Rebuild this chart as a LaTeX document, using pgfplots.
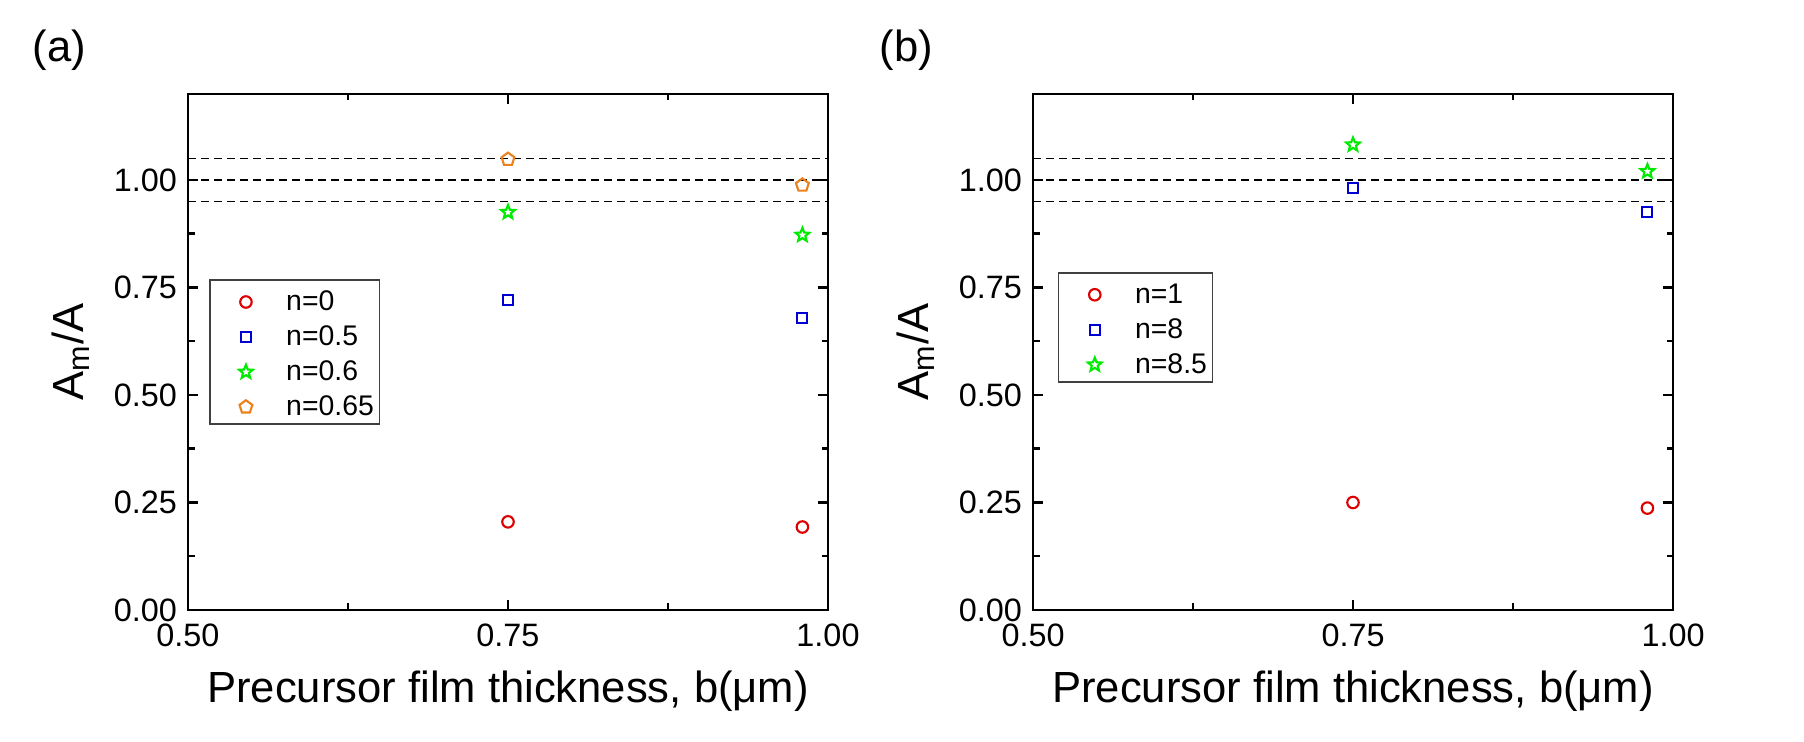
\documentclass[border=0pt]{standalone}
\usepackage{pgfplots}
\pgfplotsset{compat=1.18}
\usepackage{fontspec}
\setmainfont{Liberation Sans}
\usetikzlibrary{plotmarks}
\definecolor{mred}{RGB}{220,0,0}
\definecolor{mblue}{RGB}{0,0,210}
\definecolor{mgreen}{RGB}{0,235,0}
\definecolor{morange}{RGB}{235,130,30}
\pgfdeclareplotmark{ostar}{%
  \pgfpathmoveto{\pgfqpointpolar{90}{1.15\pgfplotmarksize}}%
  \pgfpathlineto{\pgfqpointpolar{126}{0.5\pgfplotmarksize}}%
  \pgfpathlineto{\pgfqpointpolar{162}{1.15\pgfplotmarksize}}%
  \pgfpathlineto{\pgfqpointpolar{198}{0.5\pgfplotmarksize}}%
  \pgfpathlineto{\pgfqpointpolar{234}{1.15\pgfplotmarksize}}%
  \pgfpathlineto{\pgfqpointpolar{270}{0.5\pgfplotmarksize}}%
  \pgfpathlineto{\pgfqpointpolar{306}{1.15\pgfplotmarksize}}%
  \pgfpathlineto{\pgfqpointpolar{342}{0.5\pgfplotmarksize}}%
  \pgfpathlineto{\pgfqpointpolar{18}{1.15\pgfplotmarksize}}%
  \pgfpathlineto{\pgfqpointpolar{54}{0.5\pgfplotmarksize}}%
  \pgfpathclose\pgfusepathqstroke}
\pgfplotsset{
  myax/.style={
    scale only axis, width=256bp, height=206.4bp,
    anchor=south west,
    xmin=0.5, xmax=1.0, ymin=0, ymax=1.2,
    xtick={0.5,0.75,1.0}, ytick={0,0.25,0.5,0.75,1.0},
    minor x tick num=1, minor y tick num=1,
    tick align=inside,
    major tick length=4bp, minor tick length=2.6bp,
    axis line style={line width=1bp},
    every tick/.style={line width=1bp, black},
    /pgf/number format/assume math mode=true,
    /pgf/number format/fixed, /pgf/number format/fixed zerofill,
    /pgf/number format/precision=2,
    tick label style={font=\fontsize{13}{13}\selectfont},
    xticklabel style={yshift=-2.1bp},
    yticklabel style={xshift=-0.9bp},
    xlabel={Precursor film thickness, b(μm)},
    ylabel={A\textsubscript{m}/A},
    label style={font=\fontsize{17.5}{17.5}\selectfont},
    xlabel style={at={(axis description cs:0.5,-0.180)}, anchor=base},
    ylabel style={at={(axis description cs:-0.164,0.5)}, anchor=base},
    legend cell align=left,
    legend image code/.code={
      \path (0bp,0bp) (20bp,0bp);
      \draw[#1, mark repeat=2, mark phase=2] plot coordinates {(6bp,-1bp)(13bp,-1bp)(20bp,-1bp)};
    },
    legend style={draw=black!75, line width=0.6bp, anchor=north west,
      font=\fontsize{11.4}{11.4}\selectfont,
      inner xsep=1bp, inner ysep=2.3bp, row sep=3.0bp, column sep=0bp,
      nodes={inner xsep=1.2bp, inner ysep=0bp, text height=10bp, text depth=1bp},
      /tikz/every odd column/.append style={column sep=7.5bp}},
  },
  hl/.style={black, line width=0.5bp, dash pattern=on 3.2bp off 2bp, forget plot},
  pc/.style={only marks, mark=o, mark size=2.3bp, mred, line width=0.85bp},
  ps/.style={only marks, mark=square, mark size=2.0bp, mblue, line width=0.85bp},
  pst/.style={only marks, mark=ostar, mark size=2.5bp, mgreen, line width=0.85bp},
  pp/.style={only marks, mark=pentagon, mark size=2.7bp, morange, line width=0.85bp},
}
\begin{document}
\begin{tikzpicture}
\path[use as bounding box] (0,0) rectangle (721.6bp,296.8bp);
\node[anchor=base west, inner sep=0pt, font=\fontsize{17.5}{17.5}\selectfont] at (12.8bp,272bp) {(a)};
\node[anchor=base west, inner sep=0pt, font=\fontsize{17.5}{17.5}\selectfont] at (351.6bp,272bp) {(b)};
\begin{axis}[myax, at={(75.2bp,52.8bp)},
  legend style={at={(rel axis cs:0.033,0.641)}}]
\addplot[hl] coordinates {(0.5,0.95)(1,0.95)};
\addplot[hl] coordinates {(0.5,1.0)(1,1.0)};
\addplot[hl] coordinates {(0.5,1.05)(1,1.05)};
\addplot[pc] coordinates {(0.75,0.205)(0.98,0.193)};
\addplot[ps] coordinates {(0.75,0.720)(0.98,0.680)};
\addplot[pst] coordinates {(0.75,0.925)(0.98,0.872)};
\addplot[pp] coordinates {(0.75,1.048)(0.98,0.988)};
\legend{n=0,n=0.5,n=0.6,n=0.65}
\end{axis}
\begin{axis}[myax, at={(413.2bp,52.8bp)},
  legend style={at={(rel axis cs:0.039,0.655)}}]
\addplot[hl] coordinates {(0.5,0.95)(1,0.95)};
\addplot[hl] coordinates {(0.5,1.0)(1,1.0)};
\addplot[hl] coordinates {(0.5,1.05)(1,1.05)};
\addplot[pc] coordinates {(0.75,0.250)(0.98,0.237)};
\addplot[ps] coordinates {(0.75,0.982)(0.98,0.925)};
\addplot[pst] coordinates {(0.75,1.082)(0.98,1.020)};
\legend{n=1,n=8,n=8.5}
\end{axis}
\end{tikzpicture}
\end{document}
